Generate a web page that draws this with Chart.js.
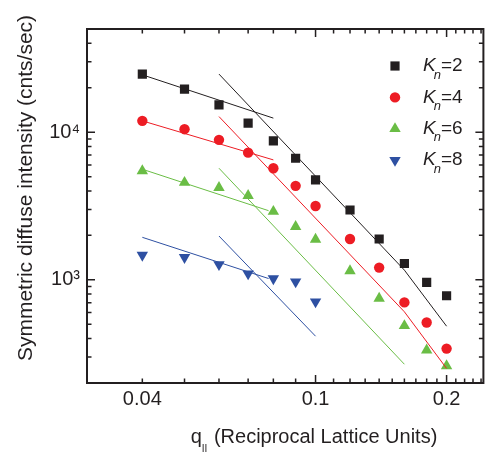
<!DOCTYPE html>
<html><head><meta charset="utf-8">
<script src="https://cdn.jsdelivr.net/npm/chart.js@4/dist/chart.umd.min.js"></script>
<style>html,body{margin:0;padding:0;background:#fff;}canvas{display:block;}</style>
</head><body>
<canvas id="c" width="490" height="457"></canvas>
<script>
// ---- data ----
const qValues = [0.04,0.05,0.06,0.07,0.08,0.09,0.1,0.12,0.14,0.16,0.18,0.2];
const kn2 = [24750,19570,15320,11510,8730,6660,4750,2970,1890,1290,960,780];
const kn4 = [11930,10480,8870,7270,5700,4330,3160,1890,1210,703,514,342];
const kn6 = [5470,4560,4210,3720,2900,2290,1880,1150,748,488,334,261];
const kn8Q = [0.04,0.05,0.06,0.07,0.08,0.09,0.1];
const kn8 = [1470,1420,1270,1100,1020,970,710];

// fit lines
const fit2LowQ = [0.04,0.08],        fit2LowI = [24470,12450];
const fit2HighQ = [0.06,0.16,0.2],   fit2HighI = [24750,1163,485];
const fit4LowQ = [0.04,0.08],        fit4LowI = [11930,6490];
const fit4HighQ = [0.06,0.16,0.2],   fit4HighI = [12760,607,251];
const fit6LowQ = [0.04,0.078],       fit6LowI = [5610,2940];
const fit6HighQ = [0.06,0.16],       fit6HighI = [5700,268];
const fit8LowQ = [0.04,0.078],       fit8LowI = [1940,1020];
const fit8HighQ = [0.06,0.1],        fit8HighI = [1980,415];

const seriesLabels = ['2','4','6','8'];

// axis ticks
const xLabelTicks = [0.04,0.1,0.2];
const xMajorTicks = [0.1,0.2];
const xMinorTicks = [0.04,0.05,0.06,0.07,0.08,0.09,0.11,0.12,0.13,0.14,0.15,0.16,0.17,0.18,0.19,0.21,0.22,0.23,0.24];
const yLabelTicks = [1000,10000];
const yMajorTicks = [1000,10000];
const yMinorTicks = [300,400,500,600,700,800,900,2000,3000,4000,5000,6000,7000,8000,9000,20000,30000,40000];

const FONT = "'Liberation Sans', Arial, sans-serif";
const C_BLACK = '#231f20', C_RED = '#ed1c24', C_GREEN = '#6abd45', C_BLUE = '#2e50a2';

const pts = (xs, ys) => xs.map((x,i)=>({x:x, y:ys[i]}));
const pointSet = (i, xs, ys, color, style, radius, rot) => ({
  label: 'Kn=' + seriesLabels[i], data: pts(xs, ys), showLine: false,
  pointStyle: style, pointRadius: radius, pointRotation: rot || 0,
  pointBackgroundColor: color, pointBorderWidth: 0, backgroundColor: color, borderColor: color, isMarker: true
});
const lineSet = (xs, ys, color) => ({
  data: pts(xs, ys), showLine: true, pointRadius: 0, borderColor: color, borderWidth: 1, fill: false, tension: 0
});

const datasets = [
  lineSet(fit2LowQ, fit2LowI, C_BLACK), lineSet(fit2HighQ, fit2HighI, C_BLACK),
  lineSet(fit4LowQ, fit4LowI, C_RED),   lineSet(fit4HighQ, fit4HighI, C_RED),
  lineSet(fit6LowQ, fit6LowI, C_GREEN), lineSet(fit6HighQ, fit6HighI, C_GREEN),
  lineSet(fit8LowQ, fit8LowI, C_BLUE),  lineSet(fit8HighQ, fit8HighI, C_BLUE),
  pointSet(0, qValues, kn2, C_BLACK, 'rect', 6.5),
  pointSet(1, qValues, kn4, C_RED, 'circle', 5.2),
  pointSet(2, qValues, kn6, C_GREEN, 'triangle', 6.6),
  pointSet(3, kn8Q, kn8, C_BLUE, 'triangle', 6.6, 180)
];

const frameTicks = {
  id: 'frameTicks',
  afterDraw(chart) {
    const ctx = chart.ctx, a = chart.chartArea, xs = chart.scales.x, ys = chart.scales.y;
    ctx.save();
    ctx.strokeStyle = C_BLACK;
    ctx.lineWidth = 1.5;
    const MAJ = 8, MIN = 4.5;
    const xt = (v, len) => { const p = xs.getPixelForValue(v);
      ctx.beginPath(); ctx.moveTo(p, a.bottom); ctx.lineTo(p, a.bottom - len);
      ctx.moveTo(p, a.top); ctx.lineTo(p, a.top + len); ctx.stroke(); };
    const yt = (v, len) => { const p = ys.getPixelForValue(v);
      ctx.beginPath(); ctx.moveTo(a.left, p); ctx.lineTo(a.left + len, p);
      ctx.moveTo(a.right, p); ctx.lineTo(a.right - len, p); ctx.stroke(); };
    xMinorTicks.forEach(v => xt(v, MIN)); xMajorTicks.forEach(v => xt(v, MAJ));
    yMinorTicks.forEach(v => yt(v, MIN)); yMajorTicks.forEach(v => yt(v, MAJ));
    ctx.lineWidth = 2;
    ctx.strokeRect(a.left, a.top, a.right - a.left, a.bottom - a.top);

    // axis titles
    ctx.fillStyle = '#231f20';
    ctx.textBaseline = 'middle';
    ctx.save();
    ctx.translate(26.5, 188);
    ctx.rotate(-Math.PI/2);
    ctx.font = '21px ' + FONT;
    ctx.textAlign = 'center';
    ctx.fillText('Symmetric diffuse intensity (cnts/sec)', 0, 0);
    ctx.restore();

    ctx.textAlign = 'left';
    ctx.font = '20px ' + FONT;
    const rest = ' (Reciprocal Lattice Units)';
    const wq = ctx.measureText('q').width, wr = ctx.measureText(rest).width;
    ctx.font = '10px ' + FONT;
    const ws = ctx.measureText('II').width + 1;
    const total = wq + ws + wr;
    let x0 = 314 - total/2;
    const ty = 437;
    ctx.font = '20px ' + FONT;
    ctx.fillText('q', x0, ty);
    ctx.font = '10px ' + FONT;
    ctx.fillText('II', x0 + wq, ty + 12);
    ctx.font = '20px ' + FONT;
    ctx.fillText(rest, x0 + wq + ws, ty);

    // legend
    const markers = chart.data.datasets.filter(d => d.isMarker);
    markers.forEach((d, i) => {
      const y = 66 + i * 31.4;
      const mx = 395;
      ctx.fillStyle = d.pointBackgroundColor;
      const opts = {pointStyle: d.pointStyle, rotation: d.pointRotation, radius: d.pointRadius, borderWidth: 0};
      if (Chart.helpers && Chart.helpers.drawPoint) {
        Chart.helpers.drawPoint(ctx, opts, mx, y);
      }
      ctx.fillStyle = '#231f20';
      ctx.textBaseline = 'middle';
      ctx.textAlign = 'left';
      let tx = 423;
      ctx.font = 'italic 19px ' + FONT;
      ctx.fillText('K', tx, y);
      tx += ctx.measureText('K').width - 2;
      ctx.font = 'italic 13px ' + FONT;
      ctx.fillText('n', tx, y + 9);
      tx += ctx.measureText('n').width;
      ctx.font = '19px ' + FONT;
      ctx.fillText('=' + seriesLabels[i], tx, y);
    });
    ctx.restore();
  }
};

const sup = {3:'\u00B3', 4:'\u2074'};

new Chart(document.getElementById('c'), {
  type: 'scatter',
  data: { datasets },
  options: {
    responsive: false, animation: false,
    layout: { padding: { top: 29, right: 2, left: 0, bottom: 0 } },
    plugins: { legend: { display: false }, tooltip: { enabled: false } },
    scales: {
      x: {
        type: 'logarithmic', min: 0.02985, max: 0.243, position: 'bottom',
        grid: { display: false, drawTicks: false }, border: { display: false },
        afterBuildTicks: s => { s.ticks = xLabelTicks.map(v => ({ value: v })); },
        afterFit: s => { s.height = 74; },
        ticks: { autoSkip: false, maxRotation: 0, padding: 4, color: '#231f20',
                 font: { size: 20, family: FONT }, callback: v => String(v) }
      },
      y: {
        type: 'logarithmic', min: 200, max: 50000, position: 'left',
        grid: { display: false, drawTicks: false }, border: { display: false },
        afterBuildTicks: s => { s.ticks = yLabelTicks.map(v => ({ value: v })); },
        afterFit: s => { s.width = 87; },
        ticks: { autoSkip: false, padding: 7, color: '#231f20',
                 font: { size: 20, family: FONT },
                 callback: v => '10' + sup[Math.round(Math.log10(v))] }
      }
    }
  },
  plugins: [frameTicks]
});
</script>
</body></html>
